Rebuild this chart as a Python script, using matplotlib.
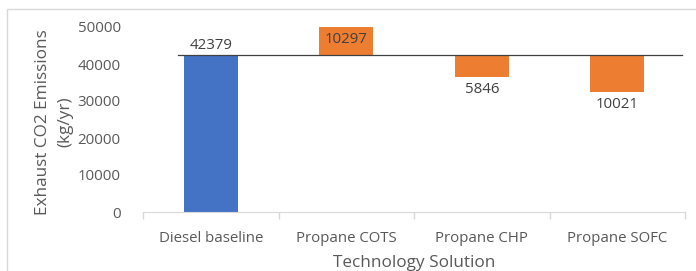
import matplotlib
matplotlib.use("Agg")
import matplotlib.pyplot as plt
from matplotlib.patches import Rectangle

categories = ["Diesel baseline", "Propane COTS", "Propane CHP", "Propane SOFC"]
baseline = 42379
changes = [10297, -5846, -10021]
labels = ["42379", "10297", "5846", "10021"]

plt.rcParams['font.family'] = ['Open Sans', 'DejaVu Sans']

fig = plt.figure(figsize=(6.96, 2.71), dpi=100)
ax = fig.add_axes([143/696, 1-212/271, (685-143)/696, (212-27)/271])

blue = "#4472C4"
orange = "#ED7D31"
w = 0.4

ax.bar(0, baseline, width=w, color=blue, zorder=2)
for i, c in enumerate(changes, start=1):
    bottom = baseline if c > 0 else baseline + c
    ax.bar(i, abs(c), bottom=bottom, width=w, color=orange, zorder=2)

ax.plot([-0.245, 3.48], [baseline, baseline], color="#404040", lw=0.9, zorder=3, clip_on=False)

ax.set_xlim(-0.5, 3.5)
ax.set_ylim(0, 50000)
ax.set_yticks(range(0, 50001, 10000))

tc = "#595959"
fs = 10.8
# data labels
ax.text(0, baseline + 500, labels[0], ha="center", va="bottom", fontsize=fs, color="#404040")
ax.text(1, 46500, labels[1], ha="center", va="center", fontsize=fs, color="#404040", zorder=4)
for i, c in enumerate(changes, start=1):
    if c < 0:
        ax.text(i, baseline + c - 1300, labels[i], ha="center", va="top", fontsize=fs, color="#404040")

ax.set_xticks(range(4))
ax.set_xticklabels(categories, fontsize=fs, color=tc)
ax.tick_params(axis='x', length=0, pad=14)
ax.set_xticks([-0.5, 0.5, 1.5, 2.5, 3.5], minor=True)
ax.tick_params(axis='x', which='minor', length=5, color="#D9D9D9", width=1)
ax.tick_params(axis='y', length=0, labelsize=fs, labelcolor=tc, pad=16)

for s in ["top", "right", "left"]:
    ax.spines[s].set_visible(False)
ax.spines["bottom"].set_color("#D9D9D9")

ax.set_xlabel("Technology Solution", fontsize=12.3, color=tc, labelpad=6)
ax.set_ylabel("Exhaust CO2 Emissions\n(kg/yr)", fontsize=12.3, color=tc, linespacing=1.55,
              va="center", ha="center")
ax.yaxis.set_label_coords((54 - 143) / 542, 0.487)

fig.patches.append(Rectangle((7/696, -0.1), 1.2, 1 - 9/271 + 0.1, transform=fig.transFigure,
                             fill=False, edgecolor="#D9D9D9", lw=1))

fig.savefig("out.png", dpi=100)
